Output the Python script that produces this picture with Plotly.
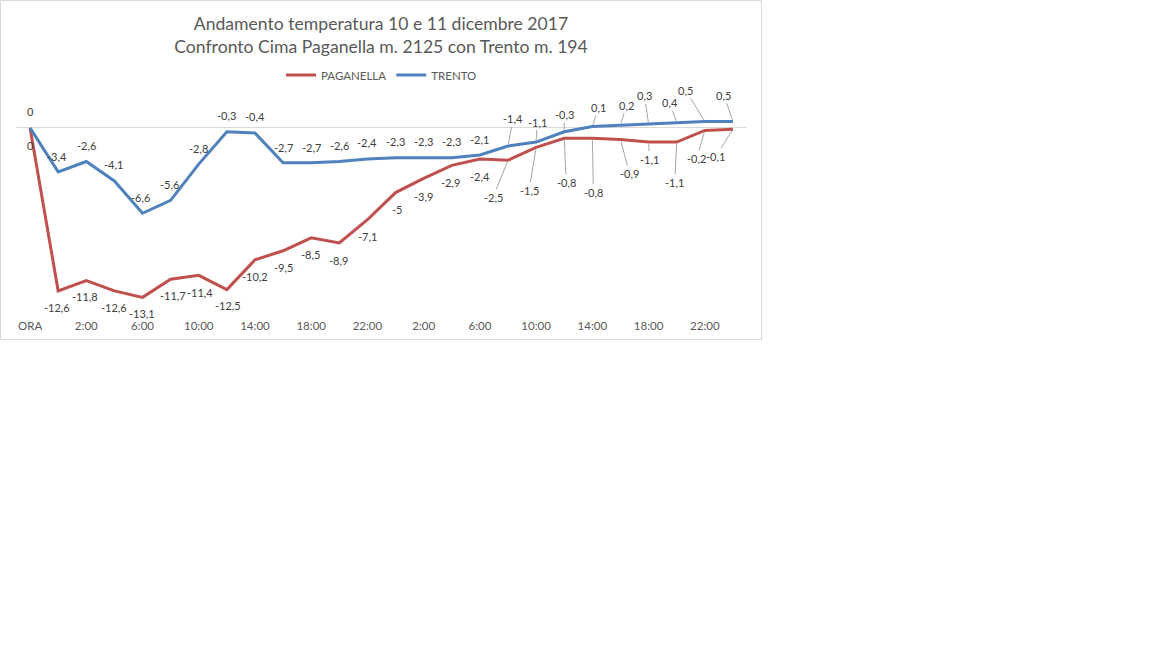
import plotly.graph_objects as go

# dati: 10 e 11 dicembre 2017, ogni 2 ore
ore = ["ORA", "0:00", "2:00", "4:00", "6:00", "8:00", "10:00", "12:00", "14:00",
       "16:00", "18:00", "20:00", "22:00", "0:00", "2:00", "4:00", "6:00",
       "8:00", "10:00", "12:00", "14:00", "16:00", "18:00", "20:00", "22:00", "24:00"]
paganella = [0, -12.6, -11.8, -12.6, -13.1, -11.7, -11.4, -12.5, -10.2, -9.5, -8.5,
             -8.9, -7.1, -5, -3.9, -2.9, -2.4, -2.5, -1.5, -0.8, -0.8, -0.9, -1.1,
             -1.1, -0.2, -0.1]
trento = [0, -3.4, -2.6, -4.1, -6.6, -5.6, -2.8, -0.3, -0.4, -2.7, -2.7, -2.6, -2.4,
          -2.3, -2.3, -2.3, -2.1, -1.4, -1.1, -0.3, 0.1, 0.2, 0.3, 0.4, 0.5, 0.5]

ROSSO = "#C0504D"
BLU = "#4F81BD"
FONT = "Lato"

idx = list(range(len(ore)))

# spostamento etichette (px) e se serve la linea guida
off_trento = [(0, -16), (-1, -15), (0, -16), (-1, -16), (-2, -16), (-1, -16), (0, -16),
              (0, -16), (0, -17), (0, -15), (0, -15), (0, -16), (0, -16), (0, -16),
              (0, -16), (0, -16), (0, -16), (5, -27), (1, -20), (0, -17), (6, -19),
              (6, -20), (-4, -28), (-7, -20), (-19, -31), (-9, -26)]
off_pag = [(0, 18), (-1, 17), (-1, 16), (0, 17), (-1, 16), (2, 16), (1, 17), (1, 16),
           (0, 17), (0, 17), (-1, 17), (-1, 17), (0, 17), (1, 17), (0, 18), (-1, 17),
           (0, 18), (-15, 37), (-7, 43), (2, 44), (1, 54), (9, 34), (1, 17), (-2, 40),
           (-8, 28), (-17, 27)]
guida_trento = set(range(17, 26))
guida_pag = set(range(17, 26))


def fmt(v):
    return f"{v:g}".replace(".", ",")


fig = go.Figure()
fig.add_trace(go.Scatter(x=idx, y=paganella, mode="lines", name="PAGANELLA",
                         line=dict(color=ROSSO, width=3)))
fig.add_trace(go.Scatter(x=idx, y=trento, mode="lines", name="TRENTO",
                         line=dict(color=BLU, width=3)))

annotazioni = []
for serie, offs, guida in [(trento, off_trento, guida_trento), (paganella, off_pag, guida_pag)]:
    for i, v in enumerate(serie):
        dx, dy = offs[i]
        annotazioni.append(dict(
            x=i, y=v, xref="x", yref="y", text=fmt(v),
            showarrow=True, ax=dx, ay=dy, arrowhead=0, arrowwidth=1, standoff=2,
            arrowcolor="#A6A6A6" if i in guida else "rgba(0,0,0,0)",
            font=dict(family=FONT, size=11, color="#404040"),
        ))

L, R, T, B = 16, 15, 102, 31
W, H = 762, 340
pw, ph = W - L - R, H - T - B

fig.update_layout(
    width=W, height=H,
    margin=dict(l=L, r=R, t=T, b=B, autoexpand=False),
    paper_bgcolor="white", plot_bgcolor="white",
    font=dict(family=FONT, color="#595959"),
    title=dict(text="Andamento temperatura 10 e 11 dicembre 2017<br>"
                    "Confronto Cima Paganella m. 2125 con Trento m. 194",
               x=0.5, xanchor="center", y=1 - 30 / H, yanchor="middle",
               font=dict(family=FONT, size=17.6, color="#595959")),
    legend=dict(orientation="h", x=0.5, xanchor="center", y=1 + 27 / ph, yanchor="middle",
                font=dict(family=FONT, size=11.5, color="#595959"), itemwidth=30),
    showlegend=True,
    hovermode=False,
    annotations=annotazioni,
    shapes=[dict(type="rect", xref="paper", yref="paper",
                 x0=-(L - 0.5) / pw, x1=1 + (R - 0.5) / pw,
                 y0=-(B - 0.5) / ph, y1=1 + (T - 0.5) / ph,
                 line=dict(color="#D9D9D9", width=1))],
)
fig.update_xaxes(range=[-0.5, len(ore) - 0.5], tickvals=idx[::2], ticktext=ore[::2],
                 showgrid=False, zeroline=False, showline=False, automargin=False,
                 ticks="outside", ticklen=6, tickcolor="white",
                 tickfont=dict(family=FONT, size=11.5, color="#595959"))
fig.update_yaxes(range=[-14, 2], showgrid=False, showticklabels=False, automargin=False,
                 zeroline=True, zerolinecolor="#D9D9D9", zerolinewidth=1)

fig.write_html("out.html", config={"displayModeBar": False},
               post_script="document.body.style.margin='0';")
